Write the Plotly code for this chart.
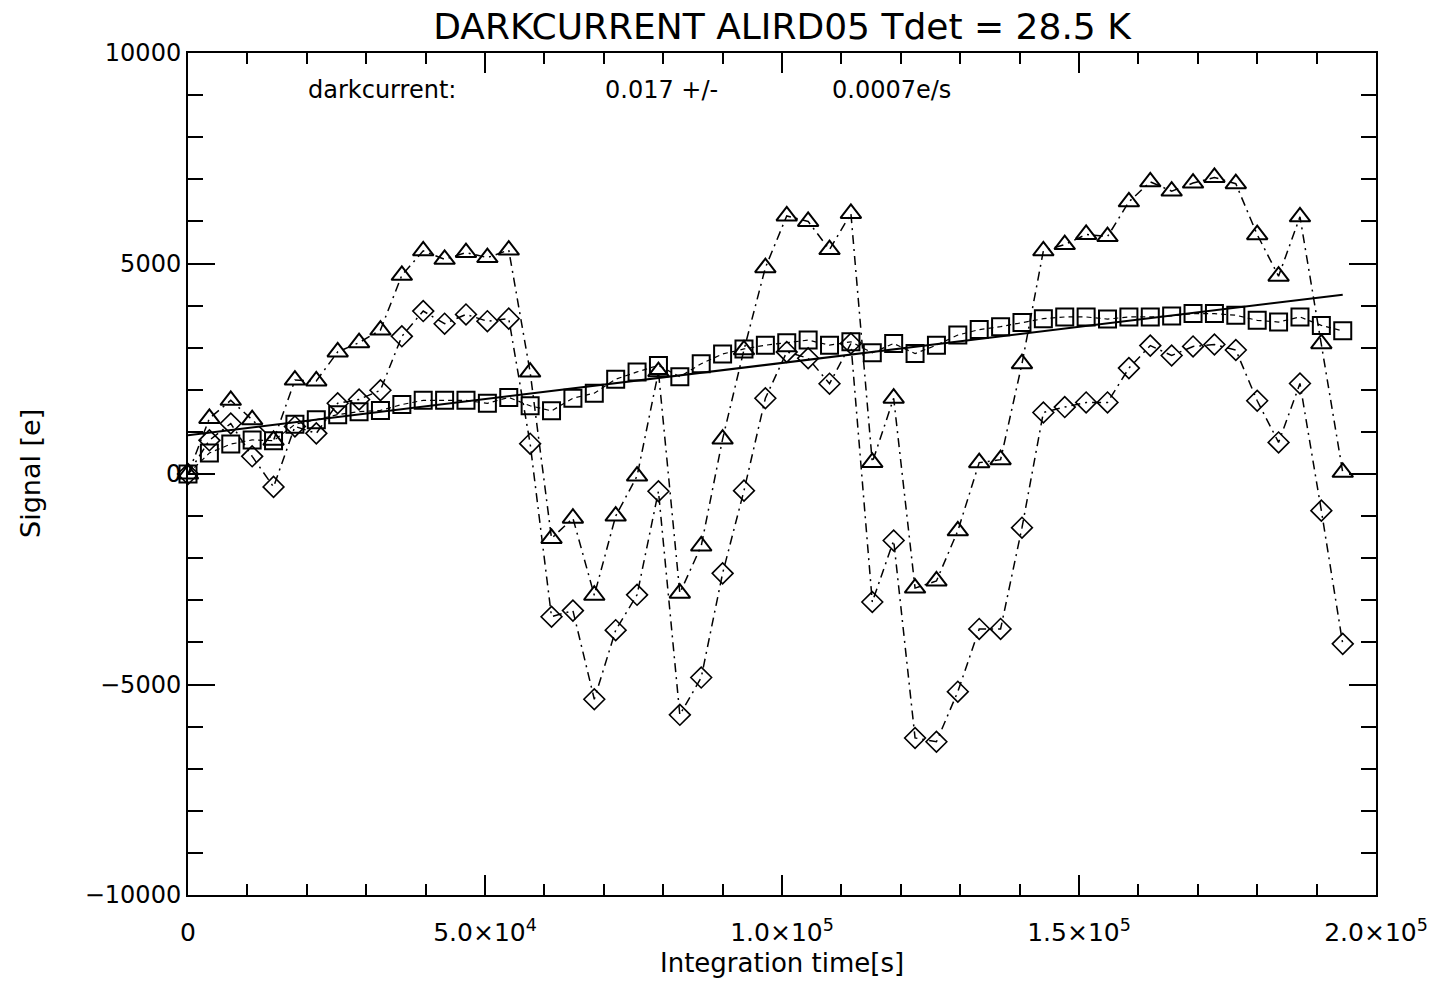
import plotly.graph_objects as go

# Integration time [s] (hourly samples)
time_s = [0, 3600, 7200, 10800, 14400, 18000, 21600, 25200, 28800, 32400,
          36000, 39600, 43200, 46800, 50400, 54000, 57600, 61200, 64800, 68400,
          72000, 75600, 79200, 82800, 86400, 90000, 93600, 97200, 100800, 104400,
          108000, 111600, 115200, 118800, 122400, 126000, 129600, 133200, 136800, 140400,
          144000, 147600, 151200, 154800, 158400, 162000, 165600, 169200, 172800, 176400,
          180000, 183600, 187200, 190800, 194400]

signal_squares = [0, 500, 710, 810, 790, 1180, 1290, 1410, 1480, 1510,
                  1650, 1750, 1750, 1750, 1680, 1820, 1620, 1500, 1800, 1920,
                  2250, 2425, 2580, 2310, 2620, 2850, 2970, 3060, 3120, 3180,
                  3060, 3140, 2880, 3100, 2860, 3060, 3300, 3430, 3500, 3600,
                  3690, 3730, 3730, 3680, 3730, 3730, 3755, 3810, 3810, 3770,
                  3650, 3610, 3730, 3530, 3400]

signal_triangles = [0, 1320, 1750, 1290, 800, 2230, 2210, 2900, 3120, 3420,
                    4720, 5300, 5100, 5260, 5140, 5320, 2420, -1530, -1050, -2880,
                    -1000, -50, 2430, -2830, -1710, 830, 2950, 4900, 6130, 6000,
                    5330, 6190, 275, 1800, -2710, -2540, -1350, 270, 340, 2620,
                    5300, 5450, 5690, 5640, 6465, 6940, 6720, 6910, 7045, 6895,
                    5685, 4700, 6110, 3095, 40]

signal_diamonds = [0, 800, 1200, 420, -306, 1130, 965, 1680, 1770, 1990,
                   3270, 3870, 3570, 3790, 3630, 3690, 720, -3390, -3245, -5350,
                   -3710, -2870, -410, -5720, -4835, -2360, -395, 1800, 2900, 2750,
                   2145, 3100, -3040, -1580, -6270, -6360, -5170, -3680, -3680, -1275,
                   1460, 1590, 1700, 1700, 2515, 3050, 2815, 3030, 3075, 2945,
                   1740, 750, 2150, -870, -4035]

fit_time = [0, 194400]
fit_signal = [920, 4260]

x_tickvals = [0, 50000, 100000, 150000, 200000]
x_ticktext = ["0", "5.0×10<sup>4</sup>", "1.0×10<sup>5</sup>", "1.5×10<sup>5</sup>", "2.0×10<sup>5</sup>"]
y_tickvals = [-10000, -5000, 0, 5000, 10000]
y_ticktext = ["−10000", "−5000", "0", "5000", "10000"]

FONT = "DejaVu Sans"
BLACK = "#000000"
DASHDOT = "9px,5px,2px,5px"

fig = go.Figure()

fig.add_trace(go.Scatter(
    x=time_s, y=signal_squares, mode="lines+markers",
    line=dict(color=BLACK, width=1.2, dash="5px,4px"),
    marker=dict(symbol="square-open", size=17, color=BLACK, line=dict(width=2, color=BLACK)),
    cliponaxis=False, showlegend=False))

fig.add_trace(go.Scatter(
    x=time_s, y=signal_triangles, mode="lines+markers",
    line=dict(color=BLACK, width=1.5, dash=DASHDOT),
    marker=dict(symbol="triangle-up-open", size=18, color=BLACK, line=dict(width=2, color=BLACK)),
    cliponaxis=False, showlegend=False))

fig.add_trace(go.Scatter(
    x=time_s, y=signal_diamonds, mode="lines+markers",
    line=dict(color=BLACK, width=1.5, dash=DASHDOT),
    marker=dict(symbol="diamond-open", size=16, color=BLACK, line=dict(width=1.6, color=BLACK)),
    cliponaxis=False, showlegend=False))

fig.add_trace(go.Scatter(
    x=fit_time, y=fit_signal, mode="lines",
    line=dict(color=BLACK, width=2),
    cliponaxis=False, showlegend=False))

fig.update_layout(
    width=1432, height=981,
    margin=dict(l=188, r=56, t=53, b=86, autoexpand=False),
    paper_bgcolor="white", plot_bgcolor="white",
    font=dict(family=FONT, color=BLACK, size=22),
    title=dict(text="DARKCURRENT ALIRD05 Tdet = 28.5 K", x=0.5, xref="paper",
               y=1 - 26 / 981, yanchor="middle", xanchor="center",
               font=dict(family=FONT, size=36, color=BLACK)),
    xaxis=dict(range=[0, 200000], tickvals=x_tickvals, ticktext=x_ticktext,
               automargin=False,
               ticks="inside", ticklen=20, tickwidth=1.5, tickcolor=BLACK,
               ticklabelstandoff=14,
               minor=dict(ticks="inside", ticklen=11, tickwidth=1.5, tickcolor=BLACK,
                          dtick=10000, tick0=0, showgrid=False),
               showline=True, linewidth=2, linecolor=BLACK, mirror="allticks",
               showgrid=False, zeroline=False,
               tickfont=dict(family=FONT, size=25, color=BLACK)),
    yaxis=dict(range=[-10000, 10000], tickvals=y_tickvals, ticktext=y_ticktext,
               automargin=False,
               ticks="inside", ticklen=27, tickwidth=1.5, tickcolor=BLACK,
               minor=dict(ticks="inside", ticklen=15, tickwidth=1.5, tickcolor=BLACK,
                          dtick=1000, tick0=0, showgrid=False),
               showline=True, linewidth=2, linecolor=BLACK, mirror="allticks",
               showgrid=False, zeroline=False,
               tickfont=dict(family=FONT, size=24, color=BLACK)),
)

annotations = [
    dict(text="Integration time[s]", x=0.5, y=-(963 - 895) / 842, xref="paper", yref="paper",
         xanchor="center", yanchor="middle", showarrow=False,
         font=dict(family=FONT, size=26, color=BLACK)),
    dict(text="Signal [e]", x=(30 - 188) / 1188, y=0.5, xref="paper", yref="paper",
         xanchor="center", yanchor="middle", showarrow=False, textangle=-90,
         font=dict(family=FONT, size=27, color=BLACK)),
    dict(text="darkcurrent:", x=(306 - 188) / 1188, y=(895 - 90) / 842, xref="paper", yref="paper",
         xanchor="left", yanchor="middle", showarrow=False,
         font=dict(family=FONT, size=24, color=BLACK)),
    dict(text="0.017 +/-", x=(603 - 188) / 1188, y=(895 - 90) / 842, xref="paper", yref="paper",
         xanchor="left", yanchor="middle", showarrow=False,
         font=dict(family=FONT, size=24, color=BLACK)),
    dict(text="0.0007e/s", x=(830 - 188) / 1188, y=(895 - 90) / 842, xref="paper", yref="paper",
         xanchor="left", yanchor="middle", showarrow=False,
         font=dict(family=FONT, size=24, color=BLACK)),
]
fig.update_layout(annotations=annotations)

fig.write_html("out.html")
